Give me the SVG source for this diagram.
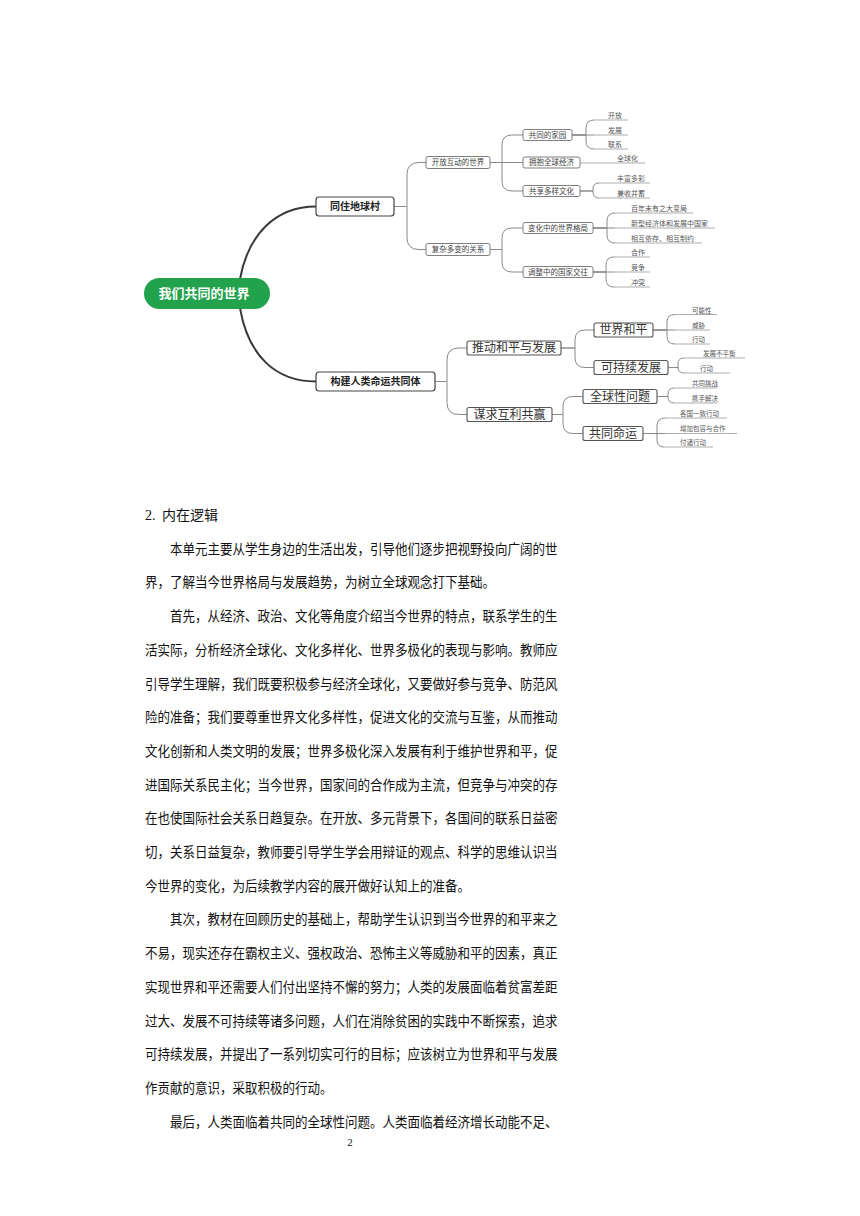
<svg xmlns="http://www.w3.org/2000/svg" width="860" height="1216" viewBox="0 0 860 1216">
<style>
.bg{fill:#fff}
.main{fill:none;stroke:#3a3a3a;stroke-width:2}
.conn{fill:none;stroke:#8a8a8a;stroke-width:1}
.ul{stroke:#9a9a9a;stroke-width:0.8}
.box{fill:#fff;stroke:#707070;stroke-width:0.9}
.box2{fill:#fff;stroke:#555;stroke-width:1.1}
.box1{fill:#fff;stroke:#444;stroke-width:1.2}
.cjk{font-family:"Noto Sans CJK SC","Noto Sans",sans-serif}
.t1{font-size:10px;font-weight:bold;fill:#222;text-anchor:middle}
.t2{font-size:7.5px;fill:#444;text-anchor:middle}
.t3{font-size:12px;fill:#333;text-anchor:middle}
.lf{font-size:7px;fill:#555}
.lf2{font-size:6.5px;fill:#555}
.root{font-size:13px;font-weight:bold;fill:#fff;text-anchor:middle}
.body{font-family:"Liberation Serif","Noto Sans CJK SC",serif;font-size:14px;fill:#111}
</style>
<rect class="bg" x="0" y="0" width="860" height="1216"/>

<g id="connectors">
  <path class="main" d="M240,279 C248,235 275,206.5 316,206.5"/>
  <path class="main" d="M240,308 C248,355 275,381.5 316,381.5"/>
  <!-- 同住地球村 -->
  <path class="conn" d="M394,206.5 H407 V174.5 Q407,162.5 419,162.5 H426"/>
  <path class="conn" d="M394,206.5 H407 V237.5 Q407,249.5 419,249.5 H426"/>
  <!-- 开放互动的世界 -->
  <path class="conn" d="M490,162.5 H502 V145 Q502,135 512,135 H523"/>
  <path class="conn" d="M490,162.5 H523"/>
  <path class="conn" d="M490,162.5 H502 V181 Q502,191 512,191 H523"/>
  <!-- 共同的家园 -->
  <path class="conn" d="M572,135 H586 V128 Q586,120 594,120"/>
  <path class="conn" d="M572,135 H594"/>
  <path class="conn" d="M572,135 H586 V141 Q586,149 594,149"/>
  <!-- 共享多样文化 -->
  <path class="conn" d="M580,191 H593 V189 Q593,183 599,183"/>
  <path class="conn" d="M580,191 H593 V192 Q593,198 599,198"/>
  <!-- 复杂多变的关系 -->
  <path class="conn" d="M490,249.5 H502 V238 Q502,228 512,228 H523"/>
  <path class="conn" d="M490,249.5 H502 V262 Q502,272 512,272 H523"/>
  <!-- 变化中的世界格局 -->
  <path class="conn" d="M593,228 H607 V221 Q607,213 615,213"/>
  <path class="conn" d="M593,228 H615"/>
  <path class="conn" d="M593,228 H607 V235 Q607,243 615,243"/>
  <!-- 调整中的国家交往 -->
  <path class="conn" d="M593,272 H606 V265 Q606,257 614,257"/>
  <path class="conn" d="M593,272 H614"/>
  <path class="conn" d="M593,272 H606 V279 Q606,287 614,287"/>
  <!-- 构建人类命运共同体 -->
  <path class="conn" d="M435,381.5 H447 V360 Q447,348 459,348 H467"/>
  <path class="conn" d="M435,381.5 H447 V402.5 Q447,414.5 459,414.5 H467"/>
  <!-- 推动和平与发展 -->
  <path class="conn" d="M561,348 H575 V340 Q575,330 585,330 H594"/>
  <path class="conn" d="M561,348 H575 V357.5 Q575,367.5 585,367.5 H594"/>
  <!-- 谋求互利共赢 -->
  <path class="conn" d="M552,414.5 H563 V406.5 Q563,396.5 573,396.5 H583"/>
  <path class="conn" d="M552,414.5 H563 V423.5 Q563,433.5 573,433.5 H583"/>
  <!-- 世界和平 -->
  <path class="conn" d="M653,330 H667 V322 Q667,314.5 675,314.5"/>
  <path class="conn" d="M653,330 H675"/>
  <path class="conn" d="M653,330 H667 V336.5 Q667,344 675,344"/>
  <!-- 可持续发展 -->
  <path class="conn" d="M668,367.5 H678 V364 Q678,358 684,358"/>
  <path class="conn" d="M668,367.5 H678 V367 Q678,373 684,373"/>
  <!-- 全球性问题 -->
  <path class="conn" d="M657,396.5 H668 V394 Q668,388 674,388"/>
  <path class="conn" d="M657,396.5 H668 V397 Q668,403 674,403"/>
  <!-- 共同命运 -->
  <path class="conn" d="M643,433.5 H657 V426 Q657,418 665,418"/>
  <path class="conn" d="M643,433.5 H665"/>
  <path class="conn" d="M643,433.5 H657 V440 Q657,447 664,447"/>
</g>

<g id="root">
  <rect x="144" y="278" width="126" height="31" rx="15.5" fill="#22a24c"/>
  <text class="cjk root" x="204" y="297.5">我们共同的世界</text>
</g>

<g id="n-tongzhu">
  <rect class="box1" x="316" y="197" width="78" height="19" rx="3"/>
  <text class="cjk t1" x="355" y="210">同住地球村</text>
</g>
<g id="n-goujian">
  <rect class="box1" x="316" y="372" width="119" height="19" rx="3"/>
  <text class="cjk t1" x="375.5" y="385">构建人类命运共同体</text>
</g>

<g id="n-kaifang">
  <rect class="box" x="426" y="156.5" width="64" height="12" rx="2"/>
  <text class="cjk t2" x="458" y="165.2">开放互动的世界</text>
</g>
<g id="n-fuza">
  <rect class="box" x="426" y="243.5" width="64" height="12" rx="2"/>
  <text class="cjk t2" x="458" y="252.2">复杂多变的关系</text>
</g>
<g id="n-jiayuan">
  <rect class="box" x="523" y="129.5" width="49" height="11" rx="2"/>
  <text class="cjk t2" x="547.5" y="137.7">共同的家园</text>
</g>
<g id="n-jingji">
  <rect class="box" x="523" y="157" width="57" height="11" rx="2"/>
  <text class="cjk t2" x="551.5" y="165.2">拥抱全球经济</text>
</g>
<g id="n-wenhua">
  <rect class="box" x="523" y="185.5" width="57" height="11" rx="2"/>
  <text class="cjk t2" x="551.5" y="193.7">共享多样文化</text>
</g>
<g id="n-geju">
  <rect class="box" x="523" y="222.5" width="70" height="11" rx="2"/>
  <text class="cjk t2" x="558" y="230.7">变化中的世界格局</text>
</g>
<g id="n-jiaowang">
  <rect class="box" x="523" y="266.5" width="70" height="11" rx="2"/>
  <text class="cjk t2" x="558" y="274.7">调整中的国家交往</text>
</g>

<g id="l-kaifang"><line class="ul" x1="594" y1="120" x2="628" y2="120"/><text class="cjk lf" x="608" y="118">开放</text></g>
<g id="l-fazhan"><line class="ul" x1="594" y1="135" x2="628" y2="135"/><text class="cjk lf" x="608" y="133">发展</text></g>
<g id="l-lianxi"><line class="ul" x1="594" y1="149" x2="628" y2="149"/><text class="cjk lf" x="608" y="147">联系</text></g>
<g id="l-quanqiuhua"><line class="ul" x1="580" y1="163" x2="645" y2="163"/><text class="cjk lf" x="617" y="160.5">全球化</text></g>
<g id="l-fengfu"><line class="ul" x1="599" y1="183" x2="650" y2="183"/><text class="cjk lf" x="617" y="181">丰富多彩</text></g>
<g id="l-jianshou"><line class="ul" x1="599" y1="198" x2="650" y2="198"/><text class="cjk lf" x="617" y="196">兼收并蓄</text></g>
<g id="l-bainian"><line class="ul" x1="615" y1="213" x2="693" y2="213"/><text class="cjk lf" x="631" y="211">百年未有之大变局</text></g>
<g id="l-xinxing"><line class="ul" x1="615" y1="228" x2="715" y2="228"/><text class="cjk lf" x="631" y="226">新型经济体和发展中国家</text></g>
<g id="l-xianghu"><line class="ul" x1="615" y1="243" x2="702" y2="243"/><text class="cjk lf" x="631" y="241">相互依存、相互制约</text></g>
<g id="l-hezuo"><line class="ul" x1="614" y1="257" x2="650" y2="257"/><text class="cjk lf" x="631" y="255">合作</text></g>
<g id="l-jingzheng"><line class="ul" x1="614" y1="272" x2="650" y2="272"/><text class="cjk lf" x="631" y="270">竞争</text></g>
<g id="l-chongtu"><line class="ul" x1="614" y1="287" x2="650" y2="287"/><text class="cjk lf" x="631" y="285">冲突</text></g>

<g id="n-tuidong">
  <rect class="box2" x="467" y="341" width="94" height="14" rx="2"/>
  <text class="cjk t3" x="514" y="352.3">推动和平与发展</text>
</g>
<g id="n-mouqiu">
  <rect class="box2" x="467" y="407.5" width="85" height="14" rx="2"/>
  <text class="cjk t3" x="509.5" y="418.8">谋求互利共赢</text>
</g>
<g id="n-heping">
  <rect class="box2" x="594" y="323" width="59" height="14" rx="2"/>
  <text class="cjk t3" x="623.5" y="334.3">世界和平</text>
</g>
<g id="n-kechixu">
  <rect class="box2" x="594" y="360.5" width="74" height="14" rx="2"/>
  <text class="cjk t3" x="631" y="371.8">可持续发展</text>
</g>
<g id="n-quanqiu">
  <rect class="box2" x="583" y="389.5" width="74" height="14" rx="2"/>
  <text class="cjk t3" x="620" y="400.8">全球性问题</text>
</g>
<g id="n-mingyun">
  <rect class="box2" x="583" y="426.5" width="60" height="14" rx="2"/>
  <text class="cjk t3" x="613" y="437.8">共同命运</text>
</g>

<g id="l-kenengxing"><line class="ul" x1="675" y1="314.5" x2="717" y2="314.5"/><text class="cjk lf2" x="692" y="312.5">可能性</text></g>
<g id="l-weixie"><line class="ul" x1="675" y1="330" x2="710" y2="330"/><text class="cjk lf2" x="692" y="327.5">威胁</text></g>
<g id="l-xingdong1"><line class="ul" x1="675" y1="344" x2="710" y2="344"/><text class="cjk lf2" x="692" y="342">行动</text></g>
<g id="l-bupingheng"><line class="ul" x1="684" y1="358" x2="745" y2="358"/><text class="cjk lf2" x="703" y="356">发展不平衡</text></g>
<g id="l-xingdong2"><line class="ul" x1="684" y1="373" x2="730" y2="373"/><text class="cjk lf2" x="700" y="371">行动</text></g>
<g id="l-tiaozhan"><line class="ul" x1="674" y1="388" x2="717" y2="388"/><text class="cjk lf2" x="692" y="386">共同挑战</text></g>
<g id="l-xieshou"><line class="ul" x1="674" y1="403" x2="717" y2="403"/><text class="cjk lf2" x="692" y="401">携手解决</text></g>
<g id="l-yizhi"><line class="ul" x1="665" y1="418" x2="727" y2="418"/><text class="cjk lf2" x="680" y="416">各国一致行动</text></g>
<g id="l-baorong"><line class="ul" x1="665" y1="433.5" x2="737" y2="433.5"/><text class="cjk lf2" x="680" y="431">增加包容与合作</text></g>
<g id="l-fuzhu"><line class="ul" x1="664" y1="447" x2="713" y2="447"/><text class="cjk lf2" x="680" y="445">付诸行动</text></g>

<g id="body-text" class="body">
  <text x="145" y="520">2.<tspan x="162">内在逻辑</tspan></text>
  <text x="170" y="553.7" textLength="387.5" lengthAdjust="spacingAndGlyphs">本单元主要从学生身边的生活出发，引导他们逐步把视野投向广阔的世</text>
  <text x="145" y="587.4" textLength="350" lengthAdjust="spacingAndGlyphs">界，了解当今世界格局与发展趋势，为树立全球观念打下基础。</text>
  <text x="170" y="621.1" textLength="387.5" lengthAdjust="spacingAndGlyphs">首先，从经济、政治、文化等角度介绍当今世界的特点，联系学生的生</text>
  <text x="145" y="654.8" textLength="412.5" lengthAdjust="spacingAndGlyphs">活实际，分析经济全球化、文化多样化、世界多极化的表现与影响。教师应</text>
  <text x="145" y="688.5" textLength="412.5" lengthAdjust="spacingAndGlyphs">引导学生理解，我们既要积极参与经济全球化，又要做好参与竞争、防范风</text>
  <text x="145" y="722.2" textLength="412.5" lengthAdjust="spacingAndGlyphs">险的准备；我们要尊重世界文化多样性，促进文化的交流与互鉴，从而推动</text>
  <text x="145" y="755.9" textLength="412.5" lengthAdjust="spacingAndGlyphs">文化创新和人类文明的发展；世界多极化深入发展有利于维护世界和平，促</text>
  <text x="145" y="789.6" textLength="412.5" lengthAdjust="spacingAndGlyphs">进国际关系民主化；当今世界，国家间的合作成为主流，但竞争与冲突的存</text>
  <text x="145" y="823.3" textLength="412.5" lengthAdjust="spacingAndGlyphs">在也使国际社会关系日趋复杂。在开放、多元背景下，各国间的联系日益密</text>
  <text x="145" y="857" textLength="412.5" lengthAdjust="spacingAndGlyphs">切，关系日益复杂，教师要引导学生学会用辩证的观点、科学的思维认识当</text>
  <text x="145" y="890.7" textLength="325" lengthAdjust="spacingAndGlyphs">今世界的变化，为后续教学内容的展开做好认知上的准备。</text>
  <text x="170" y="924.4" textLength="387.5" lengthAdjust="spacingAndGlyphs">其次，教材在回顾历史的基础上，帮助学生认识到当今世界的和平来之</text>
  <text x="145" y="958.1" textLength="412.5" lengthAdjust="spacingAndGlyphs">不易，现实还存在霸权主义、强权政治、恐怖主义等威胁和平的因素，真正</text>
  <text x="145" y="991.8" textLength="412.5" lengthAdjust="spacingAndGlyphs">实现世界和平还需要人们付出坚持不懈的努力；人类的发展面临着贫富差距</text>
  <text x="145" y="1025.5" textLength="412.5" lengthAdjust="spacingAndGlyphs">过大、发展不可持续等诸多问题，人们在消除贫困的实践中不断探索，追求</text>
  <text x="145" y="1059.2" textLength="412.5" lengthAdjust="spacingAndGlyphs">可持续发展，并提出了一系列切实可行的目标；应该树立为世界和平与发展</text>
  <text x="145" y="1092.9" textLength="187.5" lengthAdjust="spacingAndGlyphs">作贡献的意识，采取积极的行动。</text>
  <text x="170" y="1126.6" textLength="387.5" lengthAdjust="spacingAndGlyphs">最后，人类面临着共同的全球性问题。人类面临着经济增长动能不足、</text>
  <text x="350" y="1146" font-size="11" text-anchor="middle">2</text>
</g>
</svg>
